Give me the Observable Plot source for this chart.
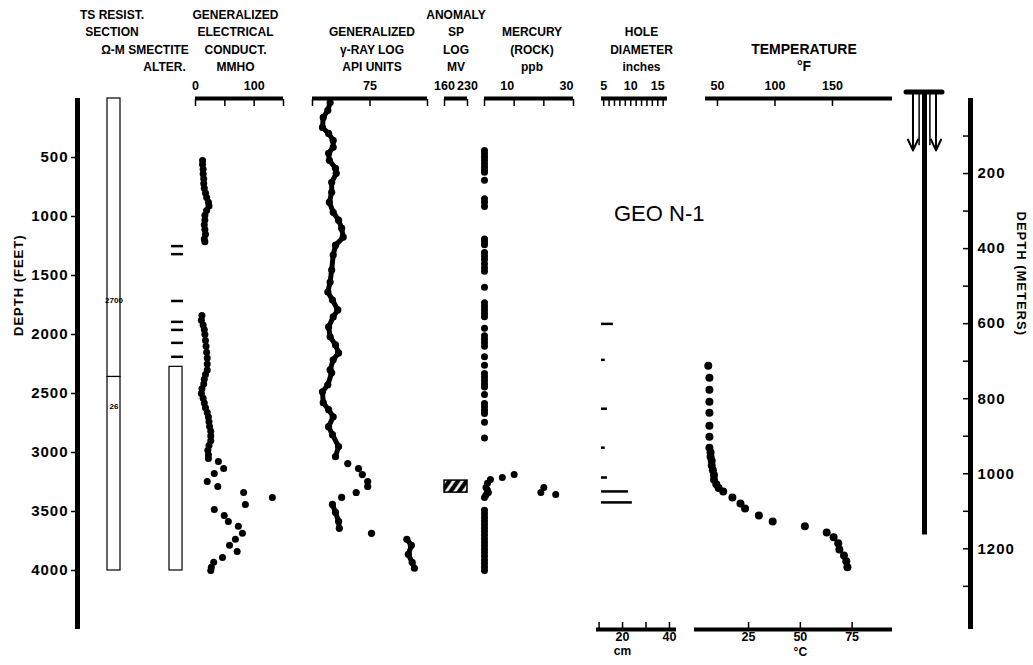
<!DOCTYPE html>
<html>
<head>
<meta charset="utf-8">
<script src="https://cdn.jsdelivr.net/npm/d3@7"></script>
<script src="https://cdn.jsdelivr.net/npm/@observablehq/plot@0.6"></script>
<style>
  body { margin: 0; background: #fff; }
  #chart { position: relative; width: 1033px; height: 665px; background: #fff; overflow: hidden; }
  #chart svg { position: absolute; left: 0; top: 0; }
  #geo { position: absolute; left: 614px; top: 201px; font: normal 22px 'Liberation Sans', Arial, sans-serif; color: #000; white-space: nowrap; }
</style>
</head>
<body>
<div id="chart"><div id="geo">GEO N-1</div></div>
<script>
// ---------------- DATA ----------------
const depthTicksFt = [500, 1000, 1500, 2000, 2500, 3000, 3500, 4000];
const depthTicksM = [200, 400, 600, 800, 1000, 1200];
const depthMinorM = [100, 200, 300, 400, 500, 600, 700, 800, 900, 1000, 1100, 1200, 1300];

// TS resistivity section (ohm-m)
const resTop = [0, 2360];
const resBottom = [2360, 4000];
const resLabel = ["2700", "26"];
const resLabelDepth = [1710, 2610];

// Smectite alteration
const smectiteDashDepth = [1251, 1319, 1716, 1893, 1961, 2071, 2189];
const smectiteZoneTop = [2274];
const smectiteZoneBottom = [4000];

// Generalized electrical conductivity (mmho)
const condTicks = [0, 50, 100, 150];
const condTickLabels = [0, 100];
const condDepth = [525,560,600,640,680,720,760,800,840,880,910,950,990,1030,1070,1110,1150,1190,1215,
  1840,1880,1920,1960,2000,2050,2100,2150,2200,2250,2300,2340,2380,2420,2460,2500,2540,2580,2620,2660,2700,2740,2780,2820,2860,2900,2940,2980,3020,3050,
  3077,3136,3178,3246,3288,3339,3381,3440,3483,3533,3584,3626,3685,3736,3787,3838,3889,3931,3973,3999];
const condValue = [12,12,13,13,14,14,15,17,19,22,23,19,16,16,15,16,17,15,16,
  11,10,13,15,16,17,18,19,20,20,20,17,15,14,11,10,13,15,17,20,22,23,24,26,26,26,23,21,22,22,
  39,48,32,20,38,82,131,85,32,49,56,73,80,68,58,71,46,31,27,26];

// Generalized gamma-ray log (API units)
const gammaTicks = [0, 75, 150];
const gammaTickLabels = [75];
const gammaDepth = [34,100,160,245,296,355,414,465,524,592,634,710,795,879,964,1031,1099,1175,1243,1327,1454,1555,1640,1708,1792,1851,1936,2020,2088,2156,2215,2300,2325,2426,2485,2578,2637,2697,2781,2849,2950,3035,
  3094,3136,3187,3246,3288,3339,3381,
  3440,3508,3584,3643,
  3685,
  3736,3787,3863,3931,3981];
const gammaValue = [23,20,14,13,21,27,27,21,22,30,31,25,25,22,27,34,38,40,30,27,25,23,20,26,33,27,21,23,30,34,27,23,25,20,13,14,21,27,21,26,34,30,
  46,60,65,72,72,57,38,
  26,30,34,35,
  77,
  123,129,125,130,133];
const gammaSegment = [1,1,1,1,1,1,1,1,1,1,1,1,1,1,1,1,1,1,1,1,1,1,1,1,1,1,1,1,1,1,1,1,1,1,1,1,1,1,1,1,1,1,
  2,2,2,2,2,2,2,
  3,3,3,3,
  4,
  5,5,5,5,5];

// SP log anomaly (mV)
const spTicks = [160, 230];
const spAnomalyTop = [3238];
const spAnomalyBottom = [3340];

// Mercury in rock (ppb)
const mercTicks = [0, 10, 20, 30];
const mercTickLabels = [10, 30];
const mercDepth = [440,468,496,524,552,580,608,625,693,850,880,915,1190,1215,1240,1305,1335,1365,1400,1435,1465,1599,
  1730,1760,1790,1820,1850,1947,2010,2040,2070,2100,2189,2260,2330,2360,2390,2420,2445,2508,2585,2615,2645,2670,2743,2878,
  3186,3212,3229,3260,3297,3297,3320,3339,3339,3356,3360,3381,
  3490,3520,3550,3580,3610,3640,3670,3700,3730,3760,3790,3820,3850,3880,3910,3940,3970,4000];
const mercValue = [0,0,0,0,0,0,0,0,0,0,0,0,0,0,0,0,0,0,0,0,0,0,
  0,0,0,0,0,0,0,0,0,0,0,0,0,0,0,0,0,0,0,0,0,0,0,0,
  10,6,2,1,0.5,20,1,1.3,19,24,0.5,0,
  0,0,0,0,0,0,0,0,0,0,0,0,0,0,0,0,0,0];

// Hole diameter (inches)
const holeTicks = [5,6,7,8,9,10,11,12,13,14,15,16];
const holeTickLabels = [5, 10, 15];
const holeMin = 4.6;
const holeDepth = [1910, 2215, 2629, 2959, 3212, 3330, 3423];
const holeDiam = [6.8, 5.3, 5.7, 5.3, 5.7, 9.6, 10.3];
const cmTicks = [10, 20, 30, 40];
const cmTickLabels = [20, 40];

// Temperature (deg F)
const tempTicks = [50, 100, 150];
const tempDepth = [2265,2367,2468,2570,2663,2773,2866,2959,3000,3035,3070,3110,3150,3190,3230,3270,3300,3330,3381,3432,3474,3533,3584,3626,3677,3719,3770,3821,3872,3922,3973];
const tempF = [42,43,43,43,43,43,43,43,44,44,45,45,46,47,47,49,51,55,63,70,74,86,98,126,145,151,155,156,160,162,163];
const celsiusTicks = [25, 50, 75];

// Well construction
const wellheadDepth = -55;
const casingShoeDepth = 3700;
const conductorX = [-0.64, 0.64];
const conductorInnerX = [-0.3, 0.3];
const conductorDepth = 440;

// ---------------- TABLES ----------------
const condData = condDepth.map((d, i) => ({d, v: condValue[i]}));
const gammaData = gammaDepth.map((d, i) => ({d, v: gammaValue[i], s: gammaSegment[i]}));
const mercData = mercDepth.map((d, i) => ({d, v: mercValue[i]}));
const holeData = holeDepth.map((d, i) => ({d, v: holeDiam[i]}));
const tempData = tempDepth.map((d, i) => ({d, v: tempF[i]}));
const resData = resTop.map((t, i) => ({top: t, bottom: resBottom[i], label: resLabel[i], ld: resLabelDepth[i]}));
const smectiteZone = smectiteZoneTop.map((t, i) => ({top: t, bottom: smectiteZoneBottom[i]}));
const spAnomaly = spAnomalyTop.map((t, i) => ({top: t, bottom: spAnomalyBottom[i]}));

// ---------------- LAYOUT ----------------
const chart = document.getElementById("chart");
const geo = document.getElementById("geo");
const W = 1033, H = 665, MT = 98, MB = 36;
const DEPTH_FT = [0, 4500];
const DEPTH_M = [0, 1415];
const FONT = "'Liberation Sans', Arial, Helvetica, sans-serif";
const ROW4 = 70.5 - MT, ROW3 = 53.5 - MT, ROW2 = 35.5 - MT;

function track(left, right, xScale, marks, extra = {}) {
  const svg = Plot.plot({
    width: W, height: H,
    marginLeft: left, marginRight: W - right, marginTop: MT, marginBottom: MB,
    style: `background: transparent; font-family: ${FONT}; font-size: 12.5px; font-weight: bold; color: #000; overflow: visible; ${extra.css || ""}`,
    x: Object.assign({axis: null, label: null}, xScale),
    y: {domain: extra.yDomain || DEPTH_FT, reverse: true, axis: null, label: null},
    marks
  });
  chart.insertBefore(svg, geo);
  return svg;
}
const header = (text, dy, dx = 0, fontSize = 12, lineHeight = 1.44) =>
  Plot.text([text], {text: d => d, frameAnchor: "top", lineAnchor: "bottom", dy, dx, fontSize, lineHeight});
const topBar = () => Plot.ruleY([0], {strokeWidth: 4});
const topTicks = (t) => Plot.axisX(t, {anchor: "top", label: null, tickSize: 7, dy: 7, tickFormat: () => "", strokeWidth: 1.5});
const topLabels = (t, dx = 0) => Plot.axisX(t, {anchor: "top", label: null, tickSize: 0, tickPadding: 9, dx, tickFormat: "d"});
const bottomBar = () => Plot.ruleY([DEPTH_FT[1]], {strokeWidth: 4});
const bottomTicks = (t) => Plot.axisX(t, {anchor: "bottom", label: null, tickSize: 7, dy: -7, tickFormat: () => "", strokeWidth: 1.5});
const bottomLabels = (t) => Plot.axisX(t, {anchor: "bottom", label: null, tickSize: 0, tickPadding: 3, tickFormat: "d", fontSize: 12.5});

// Left depth axis (feet)
track(77, 78, {domain: [0, 1]}, [
  Plot.ruleX([0], {strokeWidth: 5}),
  Plot.axisY(depthTicksFt, {anchor: "left", label: null, tickSize: 6, tickPadding: 3, tickFormat: "d", fontSize: 15, strokeWidth: 1.5}),
  Plot.text(["DEPTH (FEET)"], {text: d => d, frameAnchor: "left", rotate: -90, dx: -59, dy: -28, fontSize: 13})
], {css: "letter-spacing: 1px;"});

// TS resistivity section
track(107, 120, {domain: [0, 1]}, [
  Plot.rect(resData, {x1: 0, x2: 1, y1: "top", y2: "bottom", fill: "white", stroke: "black", strokeWidth: 1.2}),
  Plot.text(resData, {x: 0.5, y: "ld", text: "label", fontSize: 8}),
  header("TS RESIST.\nSECTION", ROW2, -2),
  header("Ω-M", ROW3, -1)
]);

// Smectite alteration
track(169, 183, {domain: [0, 1]}, [
  Plot.rect(smectiteZone, {x1: 0, x2: 0.93, y1: "top", y2: "bottom", fill: "white", stroke: "black", strokeWidth: 1.2}),
  Plot.ruleY(smectiteDashDepth, {y: d => d, x1: 0.15, x2: 1, strokeWidth: 2.5}),
  header("SMECTITE", ROW3, -18),
  header("ALTER.", ROW4, -12)
]);

// Electrical conductivity
track(195, 283, {domain: [0, 150]}, [
  topBar(), topTicks(condTicks), topLabels(condTickLabels),
  header("GENERALIZED\nELECTRICAL\nCONDUCT.\nMMHO", ROW4, -4),
  Plot.dot(condData, {x: "v", y: "d", r: 3.5, fill: "black"})
]);

// Gamma-ray log
track(312, 427, {domain: [0, 150]}, [
  topBar(), topTicks(gammaTicks), topLabels(gammaTickLabels),
  header("GENERALIZED\nγ-RAY LOG\nAPI UNITS", ROW4, 2),
  Plot.line(gammaData, {filter: d => d.s % 2 === 1, x: "v", y: "d", z: "s", stroke: "black", strokeWidth: 5, strokeLinejoin: "round", strokeLinecap: "round"}),
  Plot.dot(gammaData, {x: "v", y: "d", r: 3.6, fill: "black"})
]);

// SP log
const spSvg = track(444, 467, {domain: [160, 230]}, [
  topBar(), topTicks(spTicks), topLabels(spTicks),
  header("ANOMALY\nSP\nLOG\nMV", ROW4, 0),
  Plot.rect(spAnomaly, {x1: spTicks[0], x2: spTicks[1], y1: "top", y2: "bottom", fill: "url(#sphatch)", stroke: "black", strokeWidth: 1.5})
]);
d3.select(spSvg).insert("defs", ":first-child").html(
  '<pattern id="sphatch" patternUnits="userSpaceOnUse" width="7" height="7" patternTransform="rotate(35)">' +
  '<rect width="7" height="7" fill="black"></rect><rect x="2.2" width="2.6" height="7" fill="white"></rect></pattern>');

// Mercury
track(484, 573, {domain: [0, 30]}, [
  topBar(), topTicks(mercTicks), topLabels(mercTickLabels, -7),
  header("MERCURY\n(ROCK)\nppb", ROW4, 3),
  Plot.dot(mercData, {x: "v", y: "d", r: 3.5, fill: "black"})
]);

// Hole diameter (inches, top) and cm (bottom)
track(601, 667, {domain: [holeMin, 16.8]}, [
  topBar(), topTicks(holeTicks), topLabels(holeTickLabels),
  header("HOLE\nDIAMETER\ninches", ROW4, 7),
  Plot.ruleY(holeData, {y: "d", x1: holeMin, x2: "v", strokeWidth: 2.5})
]);
track(596, 676, {domain: [8.9, 43]}, [
  bottomBar(), bottomTicks(cmTicks), bottomLabels(cmTickLabels),
  Plot.text(["cm"], {text: d => d, x: 20, frameAnchor: "bottom", lineAnchor: "top", dy: 17, fontSize: 12})
]);

// Temperature (F top, C bottom)
track(705, 892, {domain: [39.6, 202.2]}, [
  topBar(), topTicks(tempTicks), topLabels(tempTicks),
  header("TEMPERATURE\n°F", ROW4, 5, 14, 1.24),
  Plot.dot(tempData, {x: "v", y: "d", r: 4, fill: "black"})
]);
track(694, 892, {domain: [-1.1, 94.5]}, [
  bottomBar(), bottomTicks(celsiusTicks), bottomLabels(celsiusTicks),
  Plot.text(["°C"], {text: d => d, x: 50, frameAnchor: "bottom", lineAnchor: "top", dy: 18, fontSize: 12})
]);

// Well construction
track(906, 942, {domain: [-1, 1]}, [
  Plot.ruleX([0], {y1: wellheadDepth, y2: casingShoeDepth, strokeWidth: 5}),
  Plot.ruleX(conductorInnerX, {x: d => d, y1: wellheadDepth, y2: conductorDepth - 40, strokeWidth: 1.5}),
  Plot.arrow(conductorX, {x1: d => d, x2: d => d, y1: wellheadDepth, y2: conductorDepth, strokeWidth: 2, headLength: 9, headAngle: 50}),
  Plot.ruleY([wellheadDepth], {x1: -1, x2: 1, strokeWidth: 5, strokeLinecap: "round"})
]);

// Right depth axis (meters)
track(970, 971, {domain: [0, 1]}, [
  Plot.ruleX([0], {strokeWidth: 5}),
  Plot.axisY(depthMinorM, {anchor: "left", label: null, tickSize: 7, tickFormat: () => "", strokeWidth: 1.5}),
  Plot.axisY(depthTicksM, {anchor: "right", label: null, tickSize: 0, tickPadding: 6, tickFormat: "d", fontSize: 15}),
  Plot.text(["DEPTH (METERS)"], {text: d => d, frameAnchor: "right", rotate: 90, dx: 50, dy: -28, fontSize: 13})
], {yDomain: DEPTH_M, css: "letter-spacing: 1px;"});
</script>
</body>
</html>
